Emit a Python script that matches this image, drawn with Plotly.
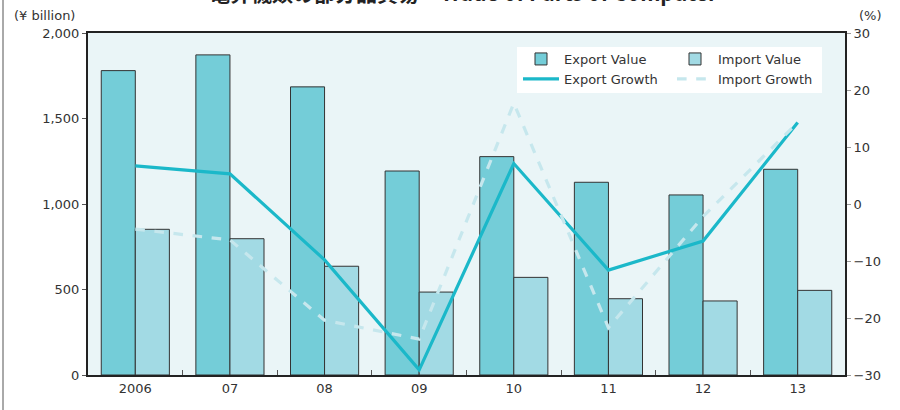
import plotly.graph_objects as go

years = ["2006", "07", "08", "09", "10", "11", "12", "13"]
export_value = [1780, 1872, 1685, 1193, 1277, 1127, 1053, 1203]
import_value = [852, 797, 636, 485, 571, 446, 433, 495]
export_growth = [6.7, 5.3, -9.8, -29.1, 7.1, -11.6, -6.5, 14.3]
import_growth = [-4.4, -6.3, -20.4, -23.7, 17.7, -21.7, -2.2, 14.3]

FONT = "DejaVu Sans"
EXP_BAR = "#74CDD8"
IMP_BAR = "#A2DAE4"
EXP_LINE = "#1BB8C9"
IMP_LINE = "#C6E7ED"

fig = go.Figure()
fig.add_trace(go.Bar(x=years, y=export_value, name="Export Value",
                     marker=dict(color=EXP_BAR, line=dict(color="#333333", width=1)),
                     legend="legend"))
fig.add_trace(go.Bar(x=years, y=import_value, name="Import Value",
                     marker=dict(color=IMP_BAR, line=dict(color="#333333", width=1)),
                     legend="legend2"))
fig.add_trace(go.Scatter(x=years, y=export_growth, name="Export Growth", mode="lines",
                         line=dict(color=EXP_LINE, width=3.2), yaxis="y2",
                         legend="legend"))
fig.add_trace(go.Scatter(x=years, y=import_growth, name="Import Growth", mode="lines",
                         line=dict(color=IMP_LINE, width=3.2, dash="dash"), yaxis="y2",
                         legend="legend2"))

L, R, T, B = 88, 55, 33, 35
W, H = 900, 410
pw, ph = W - L - R, H - T - B

def px_x(p):
    return (p - L) / pw

def px_y(p):
    return 1 - (p - T) / ph

legend_common = dict(bgcolor="rgba(0,0,0,0)", font=dict(family=FONT, size=13, color="#333333"),
                     orientation="v", xanchor="left", yanchor="top", tracegroupgap=0,
                     itemwidth=36)

fig.update_layout(
    width=W, height=H,
    margin=dict(l=L, r=R, t=T, b=B),
    paper_bgcolor="white",
    plot_bgcolor="#EAF5F7",
    barmode="group", bargap=0.28, bargroupgap=0,
    font=dict(family=FONT, size=13, color="#333333"),
    xaxis=dict(type="category", range=[-0.5, 7.5], showline=True, linecolor="#222222",
               linewidth=2, mirror=True, ticks="inside", tickson="boundaries", ticklen=5,
               tickcolor="#555555", showgrid=False, tickfont=dict(family=FONT, size=13)),
    yaxis=dict(range=[0, 2000], dtick=500, tickformat=",", showline=True,
               linecolor="#222222", linewidth=2, ticks="outside", ticklen=4,
               tickcolor="#555555", showgrid=False, zeroline=False,
               tickfont=dict(family=FONT, size=13)),
    yaxis2=dict(range=[-30, 30], dtick=10, overlaying="y", side="right", showline=True,
                linecolor="#222222", linewidth=2, ticks="outside", ticklen=4,
                tickcolor="#999999", showgrid=False, zeroline=False,
                tickfont=dict(family=FONT, size=13)),
    legend=dict(x=px_x(518), y=px_y(44), **legend_common),
    legend2=dict(x=px_x(672), y=px_y(44), **legend_common),
    showlegend=True,
    shapes=[
        dict(type="rect", xref="paper", yref="paper", x0=px_x(517), x1=px_x(822),
             y0=px_y(93), y1=px_y(47), fillcolor="white", line=dict(width=0), layer="below"),
        dict(type="line", xref="paper", yref="paper", x0=px_x(3), x1=px_x(3),
             y0=px_y(0), y1=px_y(410), line=dict(color="#555555", width=1)),
    ],
    annotations=[
        dict(text="<b>電算機類の部分品貿易　Trade of Parts of Computer</b>", xref="paper",
             yref="paper", x=px_x(463), y=px_y(9), xanchor="center", yanchor="bottom",
             showarrow=False, font=dict(family="Noto Sans CJK JP", size=21, color="#222222")),
        dict(text="(¥ billion)", xref="paper", yref="paper", x=px_x(77), y=px_y(25),
             xanchor="right", yanchor="bottom", showarrow=False,
             font=dict(family=FONT, size=13, color="#333333")),
        dict(text="(%)", xref="paper", yref="paper", x=px_x(857), y=px_y(25),
             xanchor="left", yanchor="bottom", showarrow=False,
             font=dict(family=FONT, size=13, color="#333333")),
    ],
)

fig.write_html("out.html", post_script="document.body.style.margin='0';",
               config={"displayModeBar": False})
